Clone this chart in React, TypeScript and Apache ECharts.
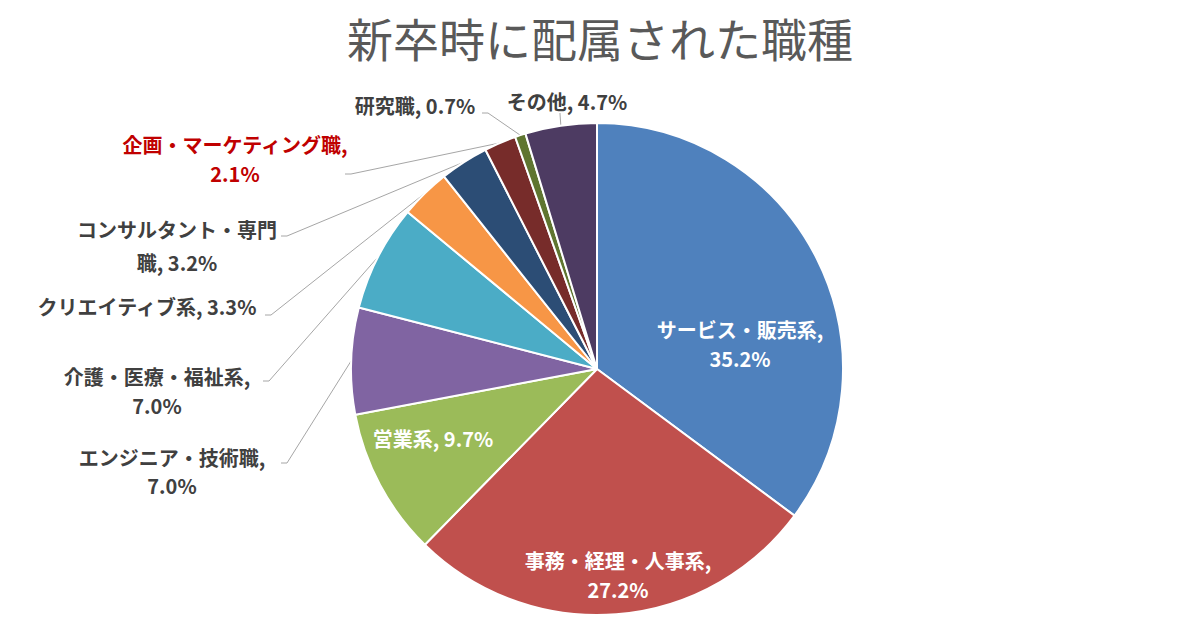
import React, { useEffect, useRef } from "react";
import * as echarts from "echarts";

// ---- data ----
const categories = [
  "サービス・販売系",
  "事務・経理・人事系",
  "営業系",
  "エンジニア・技術職",
  "介護・医療・福祉系",
  "クリエイティブ系",
  "コンサルタント・専門職",
  "企画・マーケティング職",
  "研究職",
  "その他",
];
const shares = [35.2, 27.2, 9.7, 7.0, 7.0, 3.3, 3.2, 2.1, 0.7, 4.7];
const colors = [
  "#4F81BD",
  "#C0504D",
  "#9BBB59",
  "#8064A2",
  "#4BACC6",
  "#F79646",
  "#2C4D75",
  "#772C2A",
  "#5F7530",
  "#4D3B62",
];
// how each label text wraps
const displayNames = [
  "サービス・販売系",
  "事務・経理・人事系",
  "営業系",
  "エンジニア・技術職",
  "介護・医療・福祉系",
  "クリエイティブ系",
  "コンサルタント・専門\n職",
  "企画・マーケティング職",
  "研究職",
  "その他",
];
const breakAfterComma = [true, true, false, true, true, false, false, true, false, false];
const insideLabel = [true, true, true, false, false, false, false, false, false, false];
const highlight = [false, false, false, false, false, false, false, true, false, false];

// ---- layout (label placement only) ----
const labelLayoutTable = [
  { x: 740, y: 344 },
  { x: 618, y: 575 },
  { x: 433, y: 438 },
  { x: 172, y: 471, ax: 281, ay: 463, lh: 28 },
  { x: 157, y: 391, ax: 263, ay: 381, lh: 29 },
  { x: 147, y: 306, ax: 265, ay: 315, lh: 30 },
  { x: 177, y: 246, ax: 281, ay: 236, lh: 33 },
  { x: 235, y: 159, ax: 345, ay: 174, lh: 29 },
  { x: 415, y: 105, ax: 482, ay: 113, lh: 30 },
  { x: 567, y: 101, ax: 560, ay: 113, lh: 30, vertical: true },
];

const FONT = "'Noto Sans CJK JP', 'Noto Sans', sans-serif";

export default function App() {
  const ref = useRef<HTMLDivElement>(null);

  useEffect(() => {
    if (!ref.current) return;
    const chart = echarts.init(ref.current, null, { renderer: "svg" });

    const data = categories.map((name, i) => ({
      name,
      value: shares[i],
      itemStyle: { color: colors[i] },
      label: insideLabel[i]
        ? { position: "inside", color: "#FFFFFF", lineHeight: 29 }
        : {
            position: "outside",
            color: highlight[i] ? "#C00000" : "#404040",
            lineHeight: labelLayoutTable[i].lh,
          },
      labelLine: { show: !insideLabel[i] },
    }));

    chart.setOption({
      animation: false,
      backgroundColor: "#FFFFFF",
      title: {
        text: "新卒時に配属された職種",
        left: "center",
        top: 9,
        padding: 0,
        textStyle: {
          fontFamily: FONT,
          fontSize: 46,
          fontWeight: "normal",
          color: "#595959",
          lineHeight: 56,
        },
      },
      series: [
        {
          type: "pie",
          center: [597, 369],
          radius: 246,
          startAngle: 90,
          clockwise: true,
          avoidLabelOverlap: false,
          itemStyle: { borderColor: "#FFFFFF", borderWidth: 2 },
          label: {
            fontFamily: FONT,
            fontSize: 20,
            fontWeight: "bold",
            align: "center",
            formatter: (p: any) => {
              const i = p.dataIndex;
              const v = shares[i].toFixed(1) + "%";
              return displayNames[i] + "," + (breakAfterComma[i] ? "\n" : " ") + v;
            },
          },
          labelLine: {
            show: true,
            lineStyle: { color: "#A6A6A6", width: 1 },
            length: 10,
            length2: 6,
          },
          labelLayout: (params: any) => {
            const i = params.dataIndex;
            const t: any = labelLayoutTable[i];
            const out: any = {
              x: t.x,
              y: t.y,
              align: "center",
              verticalAlign: "middle",
            };
            if (t.ax != null && params.labelLinePoints && params.labelLinePoints[0]) {
              const e = params.labelLinePoints[0];
              if (t.vertical) {
                out.labelLinePoints = [
                  [e[0], e[1]],
                  [t.ax, t.ay + 1],
                  [t.ax, t.ay],
                ];
              } else {
                out.labelLinePoints = [
                  [e[0], e[1]],
                  [t.ax + 6, t.ay],
                  [t.ax, t.ay],
                ];
              }
            }
            return out;
          },
          data,
        },
      ],
    });

    return () => chart.dispose();
  }, []);

  return (
    <div
      ref={ref}
      style={{ position: "fixed", left: 0, top: 0, width: 1200, height: 630, background: "#fff" }}
    />
  );
}
